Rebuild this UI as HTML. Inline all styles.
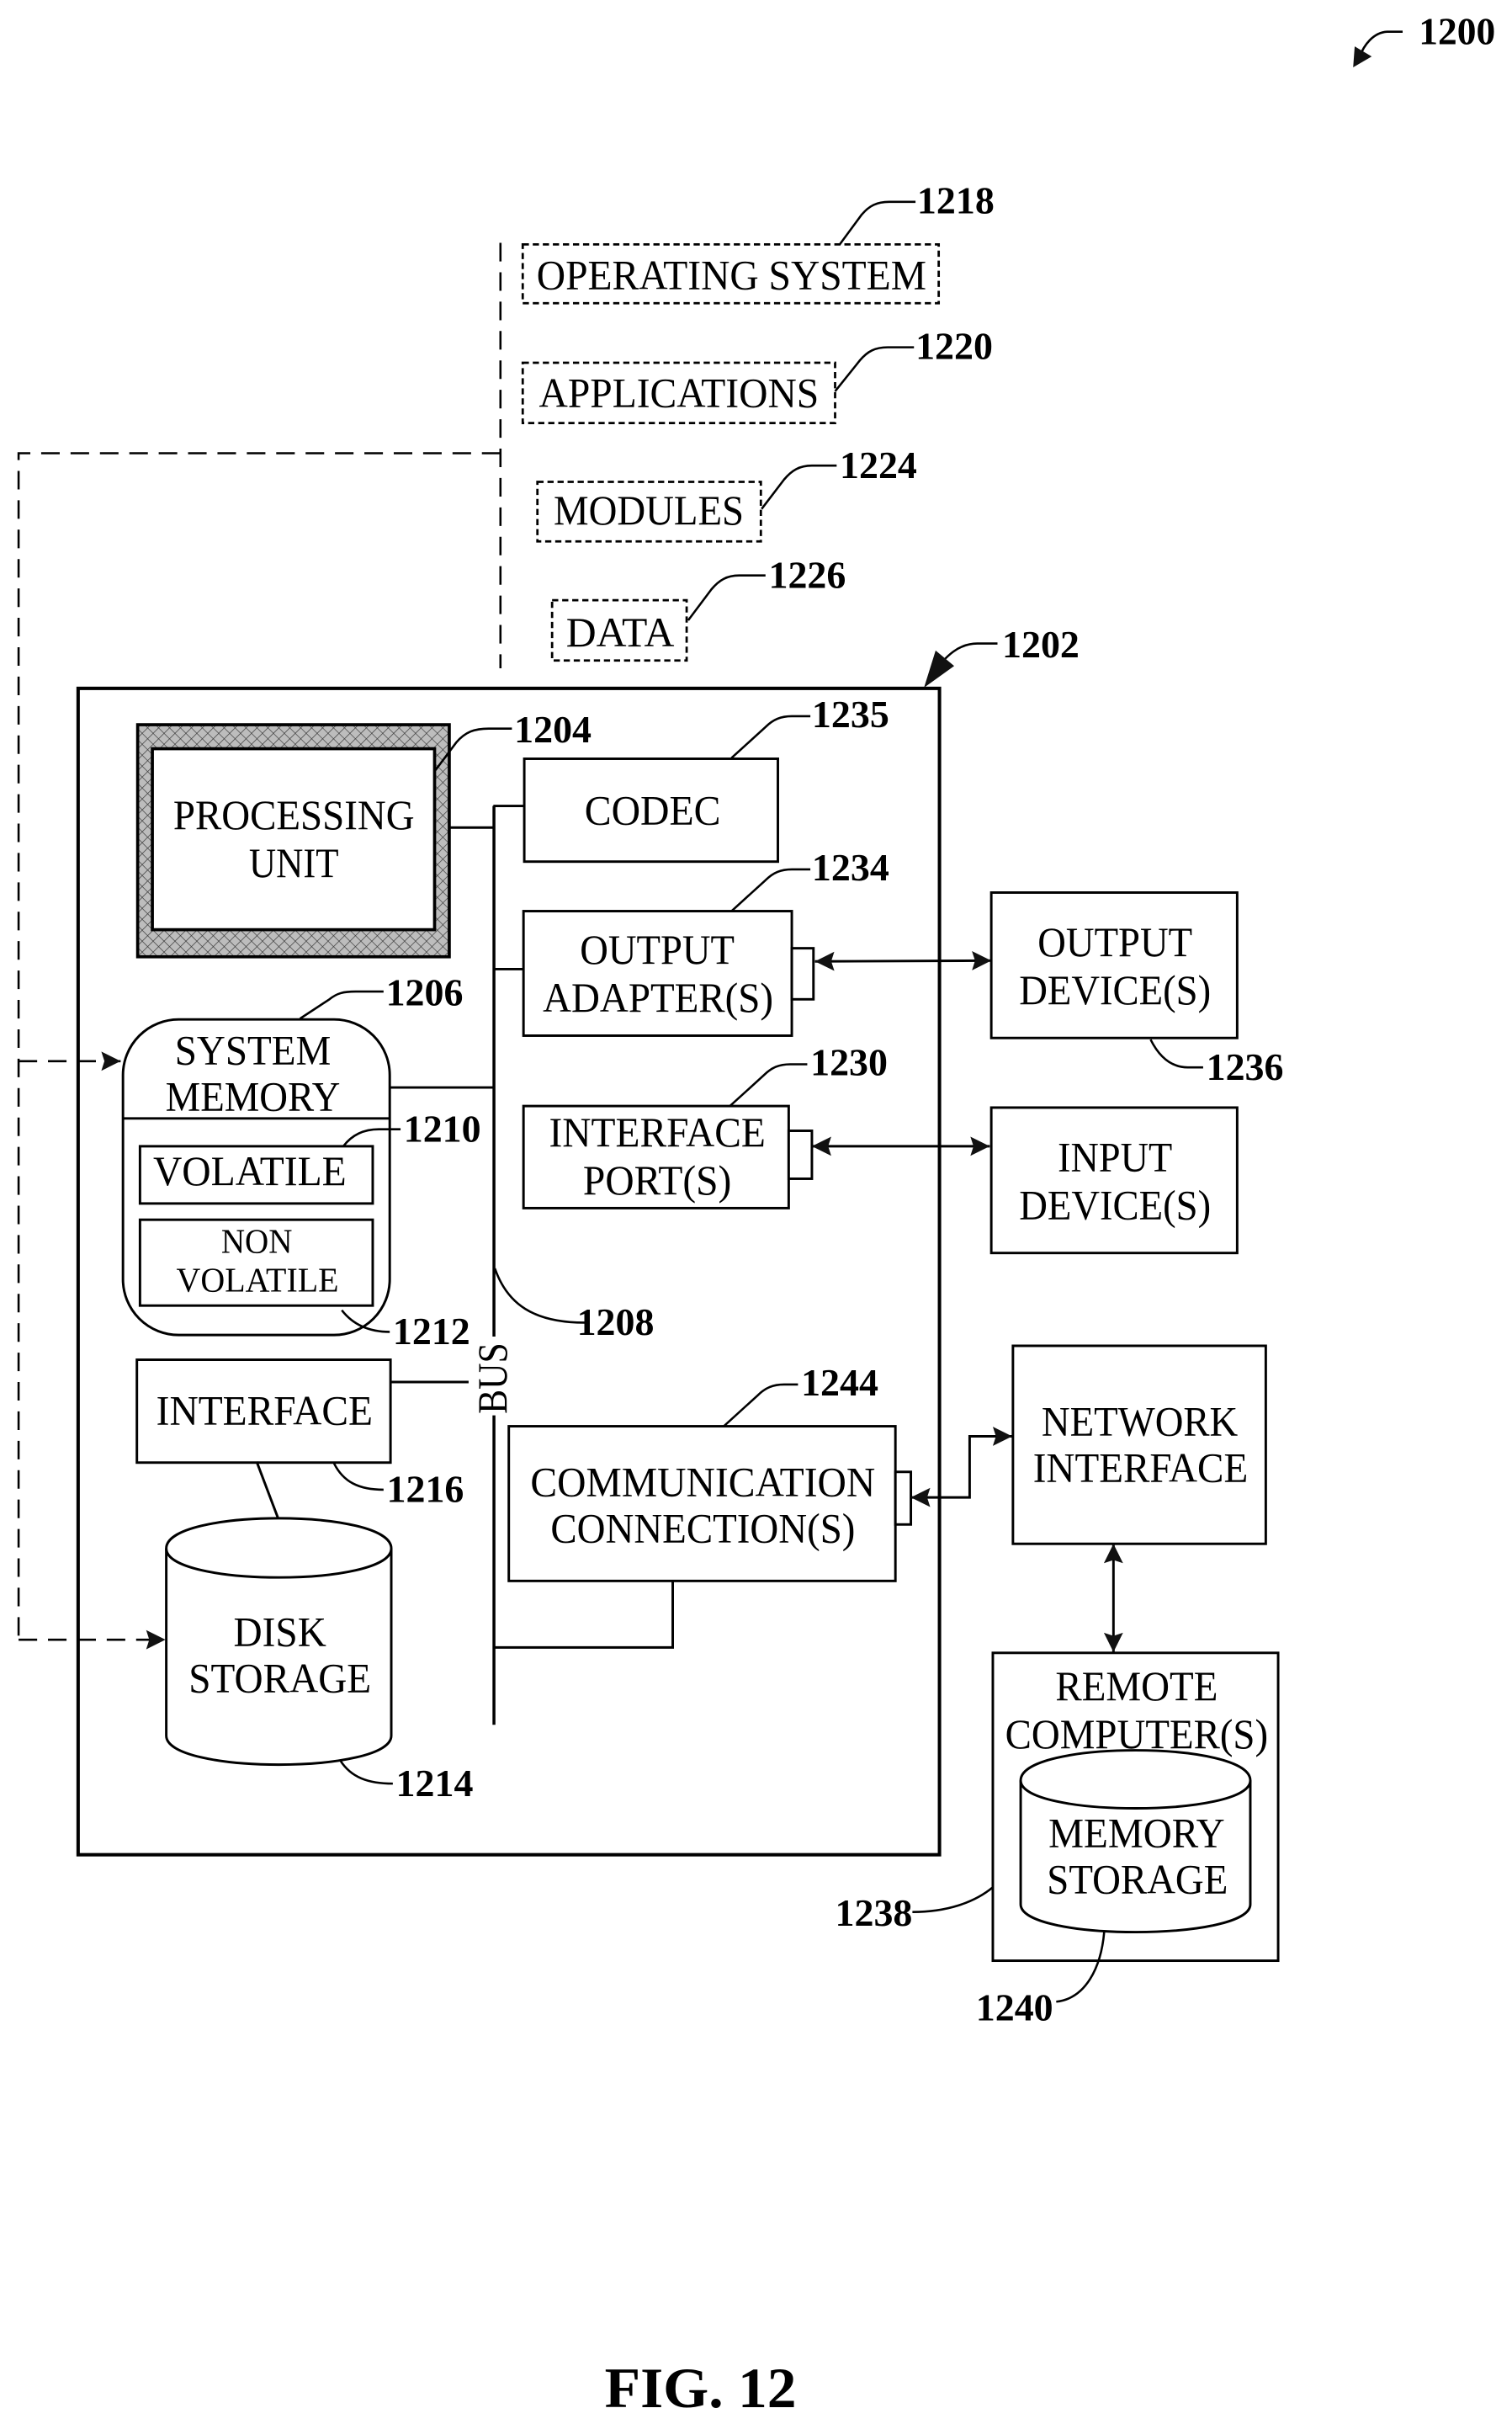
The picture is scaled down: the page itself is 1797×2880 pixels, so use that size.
<!DOCTYPE html>
<html><head><meta charset="utf-8"><style>
html,body{margin:0;padding:0;background:#fff;width:1797px;height:2880px;overflow:hidden}
svg{display:block}
text{font-family:"Liberation Serif",serif;fill:#000}
.l{font-size:27px}
.s{font-size:22.5px}
.n{font-size:25px;font-weight:bold}
.f{fill:none;stroke:#000;stroke-width:1.6}
.bus{fill:none;stroke:#000;stroke-width:1.9}
.b{fill:#fff;stroke:#000;stroke-width:1.6}
.d{fill:none;stroke:#000;stroke-width:1.5;stroke-dasharray:4 2.5}
.da{fill:none;stroke:#000;stroke-width:1.4;stroke-dasharray:12 7}
.c{fill:none;stroke:#000;stroke-width:1.4}
</style></head><body>
<svg xmlns="http://www.w3.org/2000/svg" width="1797" height="2880" viewBox="0 0 977.7 1567">
<defs>
<marker id="a" markerUnits="userSpaceOnUse" markerWidth="16" markerHeight="16" refX="14" refY="8" orient="auto-start-reverse" viewBox="0 0 16 16"><path d="M14 8L1.5 1.8L3.5 8L1.5 14.2Z" fill="#111"/></marker>
<pattern id="h" width="5" height="5" patternUnits="userSpaceOnUse" patternTransform="rotate(45)"><rect width="5" height="5" fill="#bdbdbd"/><path d="M0 0H5M0 0V5" stroke="#444" stroke-width="0.8"/></pattern>
</defs>
<rect width="978" height="1567" fill="#fff"/>

<!-- main box -->
<rect x="50.5" y="445" width="557" height="754" fill="#fff" stroke="#000" stroke-width="2.2"/>

<!-- 1200 -->
<path class="c" d="M907 20.5H897C888 21 882 29 879 37"/>
<path d="M875 43.5L876 30L887 36.5Z" fill="#111"/>
<text class="n" x="917.5" y="28.5" textLength="49.5" lengthAdjust="spacingAndGlyphs">1200</text>

<!-- dashed lines -->
<path class="da" d="M323.6 157V432"/>
<path class="da" d="M323.6 293H12V1060"/>
<path class="da" d="M12 686H78" marker-end="url(#a)"/>
<path class="da" d="M12 1060H107" marker-end="url(#a)"/>

<!-- top dotted boxes -->
<rect class="d" x="338" y="158" width="269" height="38"/>
<text class="l" x="347" y="187" textLength="252" lengthAdjust="spacingAndGlyphs">OPERATING SYSTEM</text>
<path class="c" d="M543 158L557 139C562 133 567 130.5 575 130.5H592"/>
<text class="n" x="593" y="138" textLength="50" lengthAdjust="spacingAndGlyphs">1218</text>

<rect class="d" x="338" y="234.5" width="202" height="39"/>
<text class="l" x="348.5" y="263" textLength="181" lengthAdjust="spacingAndGlyphs">APPLICATIONS</text>
<path class="c" d="M540 253L556 233C561 227 566 224.5 574 224.5H591"/>
<text class="n" x="592" y="232" textLength="50" lengthAdjust="spacingAndGlyphs">1220</text>

<rect class="d" x="347.5" y="311.5" width="144.5" height="38.5"/>
<text class="l" x="358" y="339" textLength="123" lengthAdjust="spacingAndGlyphs">MODULES</text>
<path class="c" d="M492.5 329L507 310C512 304 517 301 525 301H541"/>
<text class="n" x="543" y="309" textLength="50" lengthAdjust="spacingAndGlyphs">1224</text>

<rect class="d" x="357" y="388" width="87" height="39"/>
<text class="l" x="366" y="418" textLength="70" lengthAdjust="spacingAndGlyphs">DATA</text>
<path class="c" d="M445 401L460 381C465 375 470 372 478 372H495"/>
<text class="n" x="497" y="380" textLength="50" lengthAdjust="spacingAndGlyphs">1226</text>

<path class="c" d="M645 416H632C620 416 612 424 605 433"/>
<path d="M597.5 444.5L605 420.5L617 430.5Z" fill="#111"/>
<text class="n" x="648" y="425" textLength="50" lengthAdjust="spacingAndGlyphs">1202</text>

<!-- bus and connectors -->
<path class="bus" d="M319.4 521V864M319.4 915V1115"/>
<path class="f" d="M291 535H319M319 521H339M319 626.5H338M252 703H319M252 893.4H303M319 1065H435V1022"/>
<text class="l" transform="translate(327.5 914) rotate(-90)" x="0" y="0" textLength="46" lengthAdjust="spacingAndGlyphs">BUS</text>

<!-- processing unit -->
<rect x="89" y="468.5" width="201.5" height="150" fill="url(#h)" stroke="#000" stroke-width="2"/>
<rect x="98.5" y="484" width="182.5" height="117" fill="#fff" stroke="#000" stroke-width="2"/>
<text class="l" x="112" y="536" textLength="156" lengthAdjust="spacingAndGlyphs">PROCESSING</text>
<text class="l" x="161" y="567" textLength="58" lengthAdjust="spacingAndGlyphs">UNIT</text>
<path class="c" d="M281.5 498L295 480C301 473 307 471 316 471H331"/>
<text class="n" x="332.5" y="480" textLength="50" lengthAdjust="spacingAndGlyphs">1204</text>

<!-- codec -->
<rect class="b" x="339" y="490.5" width="164" height="66.5"/>
<text class="l" x="378" y="533" textLength="88" lengthAdjust="spacingAndGlyphs">CODEC</text>
<path class="c" d="M473 490L495 470C500 465 505 463 512 463H524"/>
<text class="n" x="525" y="470" textLength="50" lengthAdjust="spacingAndGlyphs">1235</text>

<!-- output adapter -->
<rect class="b" x="338.5" y="589" width="173.5" height="80.5"/>
<rect class="b" x="512" y="613" width="14" height="33"/>
<text class="l" x="375" y="623" textLength="100" lengthAdjust="spacingAndGlyphs">OUTPUT</text>
<text class="l" x="351" y="654" textLength="149" lengthAdjust="spacingAndGlyphs">ADAPTER(S)</text>
<path class="c" d="M473 589L495 569C500 564 505 562 512 562H524"/>
<text class="n" x="525" y="569" textLength="50" lengthAdjust="spacingAndGlyphs">1234</text>
<path class="f" d="M527 621.5L641 621" marker-start="url(#a)" marker-end="url(#a)"/>

<!-- output device -->
<rect class="b" x="641" y="577" width="159" height="94"/>
<text class="l" x="671" y="618" textLength="100" lengthAdjust="spacingAndGlyphs">OUTPUT</text>
<text class="l" x="659" y="649" textLength="124" lengthAdjust="spacingAndGlyphs">DEVICE(S)</text>
<path class="c" d="M744 672C750 684 758 690 768 690H778"/>
<text class="n" x="780" y="698" textLength="50" lengthAdjust="spacingAndGlyphs">1236</text>

<!-- interface port -->
<rect class="b" x="338.5" y="715" width="171.5" height="66"/>
<rect class="b" x="510" y="731" width="15" height="31"/>
<text class="l" x="355" y="741" textLength="140" lengthAdjust="spacingAndGlyphs">INTERFACE</text>
<text class="l" x="377" y="772" textLength="96" lengthAdjust="spacingAndGlyphs">PORT(S)</text>
<path class="c" d="M472 715L494 695C499 690 504 688 511 688H522"/>
<text class="n" x="524" y="695" textLength="50" lengthAdjust="spacingAndGlyphs">1230</text>
<path class="f" d="M525 741H640" marker-start="url(#a)" marker-end="url(#a)"/>

<!-- input device -->
<rect class="b" x="641" y="716" width="159" height="94"/>
<text class="l" x="684" y="757" textLength="74" lengthAdjust="spacingAndGlyphs">INPUT</text>
<text class="l" x="659" y="788" textLength="124" lengthAdjust="spacingAndGlyphs">DEVICE(S)</text>

<!-- system memory -->
<rect class="b" x="79.5" y="659" width="172.5" height="204" rx="36" ry="36"/>
<path class="f" d="M79.5 723H252"/>
<text class="l" x="113" y="688" textLength="101" lengthAdjust="spacingAndGlyphs">SYSTEM</text>
<text class="l" x="107" y="718" textLength="113" lengthAdjust="spacingAndGlyphs">MEMORY</text>
<path class="c" d="M194 658.5L213 646C218 642 222 641 230 641H248"/>
<text class="n" x="249.5" y="650" textLength="50" lengthAdjust="spacingAndGlyphs">1206</text>
<rect class="b" x="90.5" y="741" width="150.5" height="37"/>
<text class="l" x="99" y="766" textLength="125" lengthAdjust="spacingAndGlyphs">VOLATILE</text>
<path class="c" d="M222 741C228 733 236 730 245 730H259"/>
<text class="n" x="261" y="738" textLength="50" lengthAdjust="spacingAndGlyphs">1210</text>
<rect class="b" x="90.5" y="788.5" width="150.5" height="55.5"/>
<text class="s" x="143" y="810" textLength="46" lengthAdjust="spacingAndGlyphs">NON</text>
<text class="s" x="114" y="835" textLength="105" lengthAdjust="spacingAndGlyphs">VOLATILE</text>
<path class="c" d="M221 847C228 856 238 861 252 861"/>
<text class="n" x="254" y="869" textLength="50" lengthAdjust="spacingAndGlyphs">1212</text>
<path class="c" d="M320 820C328 843 345 855 378 855"/>
<text class="n" x="373" y="863" textLength="50" lengthAdjust="spacingAndGlyphs">1208</text>

<!-- interface -->
<rect class="b" x="88.5" y="879" width="164" height="66.5"/>
<text class="l" x="101" y="921" textLength="140" lengthAdjust="spacingAndGlyphs">INTERFACE</text>
<path class="c" d="M216 946C222 958 232 963 248 963"/>
<text class="n" x="250" y="971" textLength="50" lengthAdjust="spacingAndGlyphs">1216</text>
<path class="f" d="M166 945L180 982"/>

<!-- disk storage -->
<path class="b" d="M107.5 1001C107.5 975 253 975 253 1001V1122C253 1147 107.5 1147 107.5 1122Z"/>
<path class="f" d="M107.5 1001C107.5 1026 253 1026 253 1001"/>
<text class="l" x="151" y="1064" textLength="60" lengthAdjust="spacingAndGlyphs">DISK</text>
<text class="l" x="122" y="1094" textLength="118" lengthAdjust="spacingAndGlyphs">STORAGE</text>
<path class="c" d="M220 1138C227 1149 238 1153 254 1153"/>
<text class="n" x="256" y="1161" textLength="50" lengthAdjust="spacingAndGlyphs">1214</text>

<!-- communication -->
<rect class="b" x="329" y="922" width="250" height="100"/>
<rect class="b" x="579" y="951.5" width="10" height="34"/>
<text class="l" x="343" y="967" textLength="223" lengthAdjust="spacingAndGlyphs">COMMUNICATION</text>
<text class="l" x="356" y="997" textLength="197" lengthAdjust="spacingAndGlyphs">CONNECTION(S)</text>
<path class="c" d="M468 922L490 902C495 897 500 895 507 895H516"/>
<text class="n" x="518" y="902" textLength="50" lengthAdjust="spacingAndGlyphs">1244</text>
<path class="f" d="M589 968H627V928.5H654.5" marker-start="url(#a)" marker-end="url(#a)"/>

<!-- network interface -->
<rect class="b" x="655" y="870" width="163.5" height="128"/>
<text class="l" x="673.5" y="928" textLength="127" lengthAdjust="spacingAndGlyphs">NETWORK</text>
<text class="l" x="668" y="958" textLength="139" lengthAdjust="spacingAndGlyphs">INTERFACE</text>
<path class="f" d="M720 998V1068" marker-start="url(#a)" marker-end="url(#a)"/>

<!-- remote computer -->
<rect class="b" x="642" y="1068.5" width="184.5" height="199"/>
<text class="l" x="682.5" y="1099" textLength="105" lengthAdjust="spacingAndGlyphs">REMOTE</text>
<text class="l" x="650" y="1130" textLength="170" lengthAdjust="spacingAndGlyphs">COMPUTER(S)</text>
<path class="b" d="M660 1151C660 1125 808.5 1125 808.5 1151V1231C808.5 1255 660 1255 660 1231Z"/>
<path class="f" d="M660 1151C660 1175 808.5 1175 808.5 1151"/>
<text class="l" x="678" y="1194" textLength="114" lengthAdjust="spacingAndGlyphs">MEMORY</text>
<text class="l" x="677" y="1224" textLength="117" lengthAdjust="spacingAndGlyphs">STORAGE</text>
<path class="c" d="M642 1220C630 1230 612 1236 590 1236"/>
<text class="n" x="540" y="1245" textLength="50" lengthAdjust="spacingAndGlyphs">1238</text>
<path class="c" d="M714 1249C712 1272 702 1292 683 1294"/>
<text class="n" x="631" y="1306" textLength="50" lengthAdjust="spacingAndGlyphs">1240</text>

<text x="391" y="1556" font-size="37" font-weight="bold" textLength="124" lengthAdjust="spacingAndGlyphs">FIG. 12</text>
</svg>
</body></html>
